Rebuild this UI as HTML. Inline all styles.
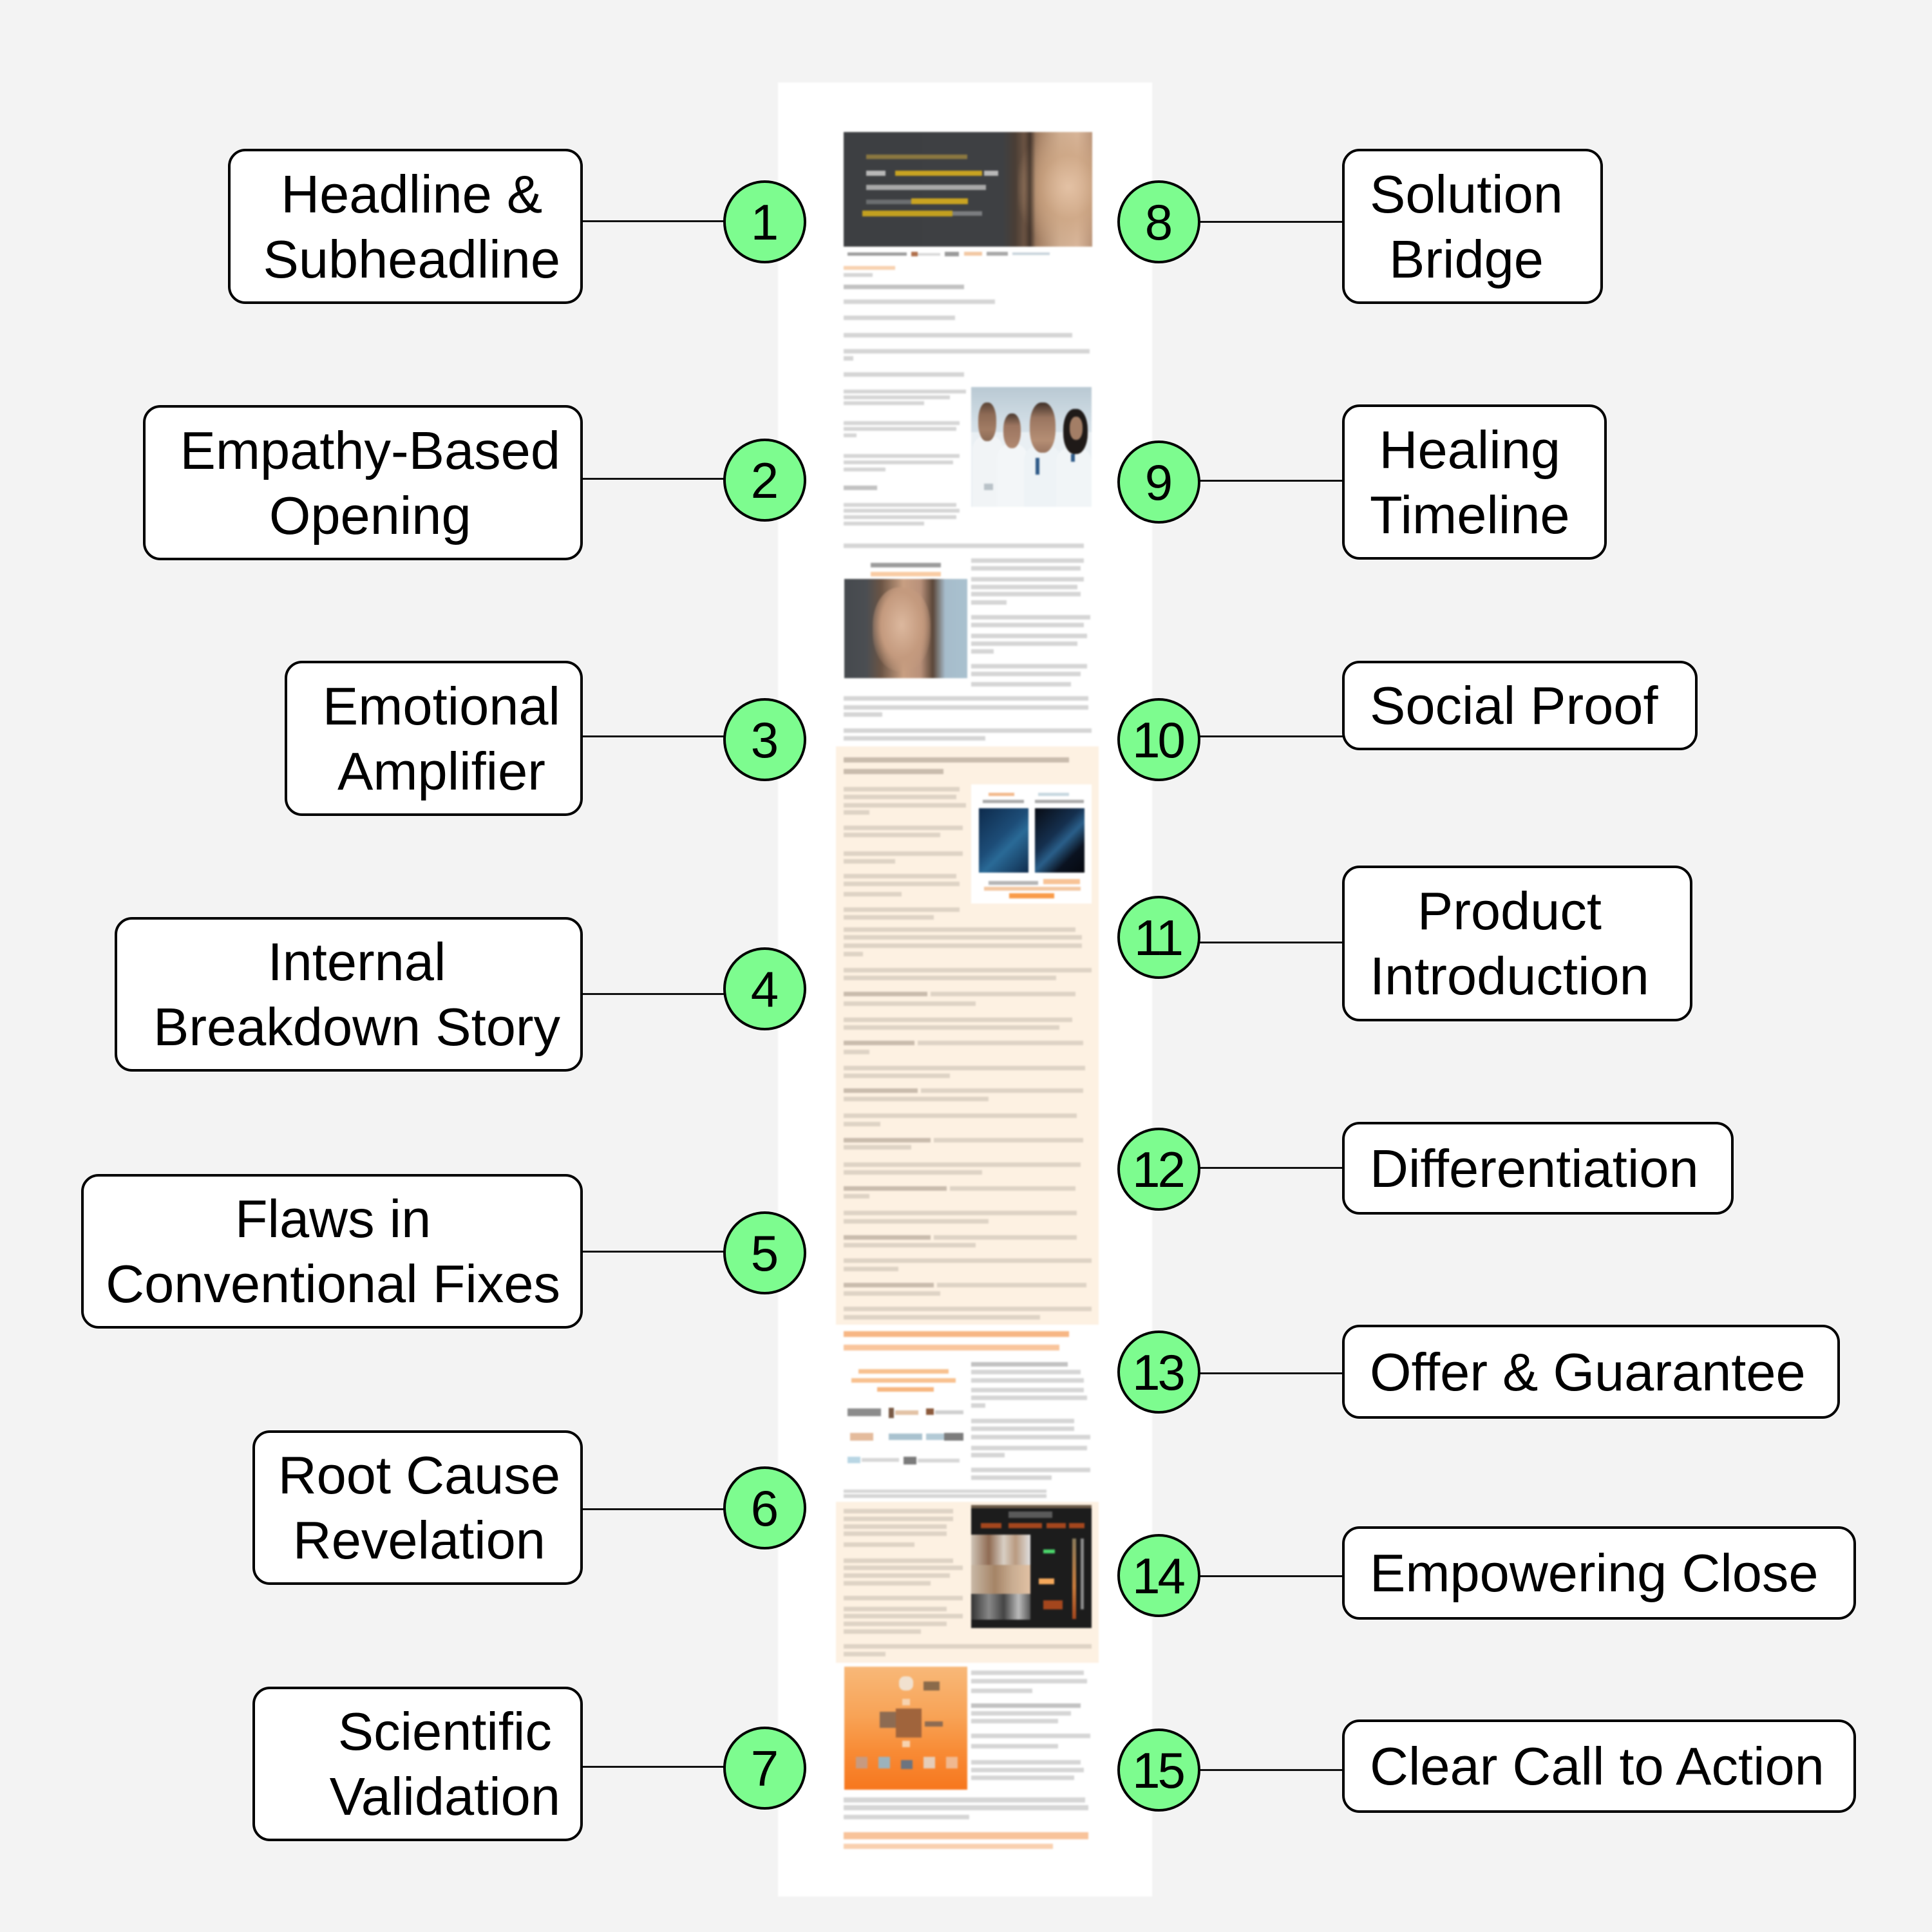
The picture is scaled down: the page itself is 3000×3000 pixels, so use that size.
<!DOCTYPE html>
<html>
<head>
<meta charset="utf-8">
<style>
html,body{margin:0;padding:0;}
body{width:3000px;height:3000px;background:#f3f3f3;position:relative;overflow:hidden;font-family:"Liberation Sans",Arial,sans-serif;}
.a{position:absolute;}
.g{position:absolute;height:7px;background:#d6d6d6;}
.d{background:#c2c2c2;}
.p{position:absolute;height:7px;background:#ded3c5;}
.pd{background:#c9bcad;}
.box{position:absolute;box-sizing:border-box;border:4px solid #000;border-radius:27px;background:#fff;display:flex;align-items:center;}
.box.l{justify-content:flex-end;padding-right:31px;}
.box.r{justify-content:flex-start;padding-left:39px;}
.box .t{font-size:83px;line-height:101px;text-align:center;color:#000;white-space:nowrap;}
.ln{position:absolute;height:3px;background:#111;}
.c{position:absolute;box-sizing:border-box;width:129px;height:129px;border:4px solid #000;border-radius:50%;background:#7dfc8f;display:flex;align-items:center;justify-content:center;font-size:78px;line-height:1;color:#000;}
.c.w{letter-spacing:-4px;padding-right:4px;}
</style>
</head>
<body>

<div class="a" style="left:0;top:0;width:3000px;height:3000px;filter:blur(1.3px);">
  <!-- page panel -->
  <div class="a" style="left:1208px;top:128px;width:581px;height:2817px;background:#fff;"></div>

  <!-- hero -->
  <div class="a" style="left:1310px;top:205px;width:386px;height:178px;background:linear-gradient(90deg,#3d3f42 0%,#3e4043 64%,#4a3e35 69%,#6e5544 73%,#a88468 79%,#cfae92 87%,#d9b79c 94%,#b99479 100%);"></div>
  <div class="a" style="left:1580px;top:205px;width:116px;height:178px;background:radial-gradient(ellipse at 68% 48%,rgba(228,194,165,0.95) 0%,rgba(205,165,130,0.7) 38%,rgba(80,60,45,0) 75%);"></div>
  <div class="a" style="left:1590px;top:205px;width:18px;height:178px;background:linear-gradient(90deg,rgba(40,32,28,0),rgba(40,32,28,0.7),rgba(40,32,28,0));"></div>
  <div class="a" style="left:1345px;top:240px;width:157px;height:7px;background:#8a7740;"></div>
  <div class="a" style="left:1345px;top:265px;width:30px;height:8px;background:#b8b8b8;"></div>
  <div class="a" style="left:1390px;top:265px;width:135px;height:8px;background:#c9a321;"></div>
  <div class="a" style="left:1528px;top:265px;width:22px;height:8px;background:#b8b8b8;"></div>
  <div class="a" style="left:1345px;top:287px;width:186px;height:8px;background:#a8a8a8;"></div>
  <div class="a" style="left:1345px;top:310px;width:70px;height:7px;background:#6b6e70;"></div>
  <div class="a" style="left:1415px;top:308px;width:88px;height:9px;background:#c9a321;"></div>
  <div class="a" style="left:1339px;top:327px;width:140px;height:9px;background:#c2a01f;"></div>
  <div class="a" style="left:1479px;top:328px;width:46px;height:7px;background:#7b7d80;"></div>

  <!-- logo strip -->
  <div class="a" style="left:1316px;top:392px;width:92px;height:5px;background:#9c9c9c;"></div>
  <div class="a" style="left:1415px;top:391px;width:10px;height:7px;background:#b0704c;"></div>
  <div class="a" style="left:1425px;top:393px;width:35px;height:4px;background:#d8d8d8;"></div>
  <div class="a" style="left:1467px;top:391px;width:22px;height:7px;background:#9a9a9a;"></div>
  <div class="a" style="left:1497px;top:391px;width:28px;height:6px;background:#f2c8a3;"></div>
  <div class="a" style="left:1532px;top:391px;width:33px;height:6px;background:#a7a7a7;"></div>
  <div class="a" style="left:1572px;top:392px;width:58px;height:4px;background:#c9d4dc;"></div>

  <!-- intro lines -->
  <div class="a" style="left:1310px;top:413px;width:80px;height:6px;background:#f8d2b0;"></div>
  <div class="g" style="left:1310px;top:424px;width:45px;height:6px;"></div>
  <div class="g d" style="left:1310px;top:442px;width:187px;"></div>
  <div class="g" style="left:1310px;top:465px;width:235px;"></div>
  <div class="g" style="left:1310px;top:490px;width:173px;"></div>
  <div class="g" style="left:1310px;top:517px;width:355px;"></div>
  <div class="g" style="left:1310px;top:542px;width:382px;"></div>
  <div class="g" style="left:1310px;top:553px;width:15px;"></div>
  <div class="g" style="left:1310px;top:578px;width:187px;"></div>
  <div class="g" style="left:1310px;top:605px;width:190px;height:6px;"></div>
  <div class="g" style="left:1310px;top:614px;width:165px;height:6px;"></div>
  <div class="g" style="left:1310px;top:623px;width:125px;height:6px;"></div>
  <div class="g" style="left:1310px;top:654px;width:180px;height:6px;"></div>
  <div class="g" style="left:1310px;top:663px;width:175px;height:6px;"></div>
  <div class="g" style="left:1310px;top:673px;width:20px;height:6px;"></div>
  <div class="g" style="left:1310px;top:705px;width:180px;height:6px;"></div>
  <div class="g" style="left:1310px;top:715px;width:170px;height:6px;"></div>
  <div class="g" style="left:1310px;top:726px;width:65px;height:6px;"></div>
  <div class="g d" style="left:1310px;top:754px;width:52px;"></div>
  <div class="g" style="left:1310px;top:781px;width:175px;height:6px;"></div>
  <div class="g" style="left:1310px;top:790px;width:180px;height:6px;"></div>
  <div class="g" style="left:1310px;top:800px;width:175px;height:6px;"></div>
  <div class="g" style="left:1310px;top:810px;width:125px;height:6px;"></div>
  <div class="g" style="left:1310px;top:844px;width:373px;"></div>

  <!-- doctors photo -->
  <div class="a" style="left:1508px;top:601px;width:187px;height:186px;background:linear-gradient(180deg,#b9c9d3 0%,#d2dee6 30%,#e3eaef 60%,#dfe7ec 100%);overflow:hidden;">
    <div class="a" style="left:0px;top:70px;width:187px;height:116px;background:#e9eff3;"></div>
    <div class="a" style="left:2px;top:75px;width:48px;height:111px;background:#f1f4f6;border-radius:22px 22px 0 0;"></div>
    <div class="a" style="left:40px;top:88px;width:48px;height:98px;background:#f3f6f8;border-radius:22px 22px 0 0;"></div>
    <div class="a" style="left:82px;top:90px;width:58px;height:96px;background:#eef3f6;border-radius:24px 24px 0 0;"></div>
    <div class="a" style="left:132px;top:94px;width:55px;height:92px;background:#f1f5f7;border-radius:22px 22px 0 0;"></div>
    <div class="a" style="left:11px;top:24px;width:28px;height:60px;border-radius:45%;background:linear-gradient(180deg,#5a4536 0%,#8d6a55 30%,#a27c64 70%,#8a6a55 100%);"></div>
    <div class="a" style="left:50px;top:41px;width:27px;height:54px;border-radius:45%;background:linear-gradient(180deg,#4a3a30 0%,#9c7560 35%,#b08870 100%);"></div>
    <div class="a" style="left:91px;top:24px;width:40px;height:78px;border-radius:45%;background:linear-gradient(180deg,#3e3028 0%,#9a7560 30%,#b58e74 75%,#9a7560 100%);"></div>
    <div class="a" style="left:143px;top:34px;width:38px;height:70px;border-radius:45%;background:#1f1a18;"></div>
    <div class="a" style="left:153px;top:46px;width:20px;height:36px;border-radius:45%;background:#a37e66;"></div>
    <div class="a" style="left:100px;top:110px;width:6px;height:26px;background:#2f5b88;"></div>
    <div class="a" style="left:155px;top:104px;width:6px;height:12px;background:#2f5b88;"></div>
    <div class="a" style="left:20px;top:150px;width:14px;height:10px;background:#b9c2c8;"></div>
  </div>

  <!-- woman section -->
  <div class="a" style="left:1352px;top:874px;width:109px;height:7px;background:#9c9c9c;"></div>
  <div class="a" style="left:1352px;top:888px;width:109px;height:7px;background:#f9cca4;"></div>
  <div class="a" style="left:1311px;top:899px;width:191px;height:154px;background:linear-gradient(90deg,#45494e 0%,#4b4e52 18%,#6b5444 30%,#c89f82 48%,#b9917a 62%,#5a4638 72%,#a6bccb 82%,#a9c1cf 100%);"></div>
  <div class="a" style="left:1355px;top:912px;width:90px;height:130px;border-radius:45%;background:radial-gradient(ellipse at 50% 45%,#dcb89e 0%,#c49a7e 50%,rgba(120,90,70,0) 80%);"></div>
  <div class="g" style="left:1508px;top:867px;width:175px;"></div>
  <div class="g" style="left:1508px;top:879px;width:170px;"></div>
  <div class="g" style="left:1508px;top:896px;width:175px;"></div>
  <div class="g" style="left:1508px;top:908px;width:165px;"></div>
  <div class="g" style="left:1508px;top:919px;width:170px;"></div>
  <div class="g" style="left:1508px;top:932px;width:55px;"></div>
  <div class="g" style="left:1508px;top:955px;width:185px;"></div>
  <div class="g" style="left:1508px;top:967px;width:175px;"></div>
  <div class="g" style="left:1508px;top:984px;width:180px;"></div>
  <div class="g" style="left:1508px;top:996px;width:165px;"></div>
  <div class="g" style="left:1508px;top:1008px;width:35px;"></div>
  <div class="g" style="left:1508px;top:1031px;width:180px;"></div>
  <div class="g" style="left:1508px;top:1043px;width:170px;"></div>
  <div class="g" style="left:1508px;top:1059px;width:155px;"></div>
  <div class="g" style="left:1310px;top:1081px;width:380px;"></div>
  <div class="g" style="left:1310px;top:1095px;width:380px;"></div>
  <div class="g" style="left:1310px;top:1106px;width:60px;"></div>
  <div class="g" style="left:1310px;top:1131px;width:385px;"></div>
  <div class="g" style="left:1310px;top:1143px;width:220px;"></div>

  <!-- peach section 1 -->
  <div class="a" style="left:1298px;top:1159px;width:408px;height:898px;background:#fdf1e2;"></div>
  <div class="p pd" style="left:1310px;top:1176px;width:350px;height:8px;"></div>
  <div class="p pd" style="left:1310px;top:1194px;width:155px;height:8px;"></div>
  <div class="p" style="left:1310px;top:1222px;width:180px;"></div>
  <div class="p" style="left:1310px;top:1234px;width:175px;"></div>
  <div class="p" style="left:1310px;top:1247px;width:190px;"></div>
  <div class="p" style="left:1310px;top:1258px;width:40px;"></div>
  <div class="p" style="left:1310px;top:1282px;width:185px;"></div>
  <div class="p" style="left:1310px;top:1293px;width:150px;"></div>
  <div class="p" style="left:1310px;top:1322px;width:185px;"></div>
  <div class="p" style="left:1310px;top:1334px;width:80px;"></div>
  <div class="p" style="left:1310px;top:1357px;width:175px;"></div>
  <div class="p" style="left:1310px;top:1369px;width:180px;"></div>
  <div class="p" style="left:1310px;top:1385px;width:90px;"></div>
  <div class="p" style="left:1310px;top:1409px;width:180px;"></div>
  <div class="p" style="left:1310px;top:1421px;width:140px;"></div>
  <!-- card -->
  <div class="a" style="left:1508px;top:1218px;width:187px;height:185px;background:#fff;"></div>
  <div class="a" style="left:1535px;top:1231px;width:40px;height:5px;background:#f3b98c;"></div>
  <div class="a" style="left:1612px;top:1231px;width:48px;height:5px;background:#c8d8e0;"></div>
  <div class="a" style="left:1526px;top:1242px;width:64px;height:5px;background:#a9a9a9;"></div>
  <div class="a" style="left:1607px;top:1242px;width:76px;height:5px;background:#a9a9a9;"></div>
  <div class="a" style="left:1520px;top:1255px;width:77px;height:100px;background:linear-gradient(135deg,#0e2b4c 0%,#1d4d78 45%,#2a6a97 60%,#0f2c4d 100%);"></div>
  <div class="a" style="left:1607px;top:1255px;width:77px;height:100px;background:linear-gradient(135deg,#080c14 0%,#15304f 40%,#2a5f8a 55%,#0a1220 75%,#05080e 100%);"></div>
  <div class="a" style="left:1535px;top:1368px;width:77px;height:6px;background:#b5b5b5;"></div>
  <div class="a" style="left:1620px;top:1365px;width:57px;height:8px;background:#f8c396;"></div>
  <div class="a" style="left:1528px;top:1377px;width:150px;height:6px;background:#f3c7a2;"></div>
  <div class="a" style="left:1567px;top:1387px;width:70px;height:8px;background:#f99b48;"></div>
  <!-- full width peach lines -->
  <div class="p" style="left:1310px;top:1440px;width:360px;"></div>
  <div class="p" style="left:1310px;top:1452px;width:370px;"></div>
  <div class="p" style="left:1310px;top:1465px;width:370px;"></div>
  <div class="p" style="left:1310px;top:1478px;width:30px;"></div>
  <div class="p" style="left:1310px;top:1503px;width:385px;"></div>
  <div class="p" style="left:1310px;top:1515px;width:330px;"></div>

  <div class="p pd" style="left:1310px;top:1540px;width:130px;"></div>
  <div class="p" style="left:1445px;top:1540px;width:225px;"></div>
  <div class="p" style="left:1310px;top:1555px;width:205px;"></div>
  <div class="p" style="left:1310px;top:1580px;width:355px;"></div>
  <div class="p" style="left:1310px;top:1592px;width:335px;"></div>
  <div class="p pd" style="left:1310px;top:1616px;width:110px;"></div>
  <div class="p" style="left:1425px;top:1616px;width:257px;"></div>
  <div class="p" style="left:1310px;top:1630px;width:40px;"></div>
  <div class="p" style="left:1310px;top:1655px;width:375px;"></div>
  <div class="p" style="left:1310px;top:1667px;width:165px;"></div>
  <div class="p pd" style="left:1310px;top:1690px;width:115px;"></div>
  <div class="p" style="left:1430px;top:1690px;width:252px;"></div>
  <div class="p" style="left:1310px;top:1703px;width:225px;"></div>
  <div class="p" style="left:1310px;top:1729px;width:362px;"></div>
  <div class="p" style="left:1310px;top:1742px;width:57px;"></div>
  <div class="p pd" style="left:1310px;top:1767px;width:135px;"></div>
  <div class="p" style="left:1450px;top:1767px;width:232px;"></div>
  <div class="p" style="left:1310px;top:1778px;width:105px;"></div>
  <div class="p" style="left:1310px;top:1805px;width:368px;"></div>
  <div class="p" style="left:1310px;top:1817px;width:215px;"></div>
  <div class="p pd" style="left:1310px;top:1842px;width:160px;"></div>
  <div class="p" style="left:1475px;top:1842px;width:195px;"></div>
  <div class="p" style="left:1310px;top:1854px;width:40px;"></div>
  <div class="p" style="left:1310px;top:1880px;width:362px;"></div>
  <div class="p" style="left:1310px;top:1893px;width:225px;"></div>
  <div class="p pd" style="left:1310px;top:1918px;width:135px;"></div>
  <div class="p" style="left:1450px;top:1918px;width:222px;"></div>
  <div class="p" style="left:1310px;top:1930px;width:205px;"></div>
  <div class="p" style="left:1310px;top:1954px;width:385px;"></div>
  <div class="p" style="left:1310px;top:1967px;width:85px;"></div>
  <div class="p pd" style="left:1310px;top:1992px;width:140px;"></div>
  <div class="p" style="left:1455px;top:1992px;width:232px;"></div>
  <div class="p" style="left:1310px;top:2005px;width:150px;"></div>
  <div class="p" style="left:1310px;top:2029px;width:385px;"></div>
  <div class="p" style="left:1310px;top:2042px;width:305px;"></div>

  <!-- after peach 1 -->
  <div class="a" style="left:1310px;top:2067px;width:350px;height:9px;background:#f7b684;"></div>
  <div class="a" style="left:1310px;top:2088px;width:335px;height:9px;background:#f9c59c;"></div>
  <div class="a" style="left:1333px;top:2126px;width:140px;height:7px;background:#f8c18f;"></div>
  <div class="a" style="left:1322px;top:2140px;width:162px;height:7px;background:#f8c18f;"></div>
  <div class="a" style="left:1362px;top:2154px;width:88px;height:7px;background:#f7b680;"></div>
  <div class="g d" style="left:1508px;top:2115px;width:150px;"></div>
  <div class="g" style="left:1508px;top:2127px;width:170px;"></div>
  <div class="g" style="left:1508px;top:2140px;width:175px;"></div>
  <div class="g" style="left:1508px;top:2155px;width:175px;"></div>
  <div class="g" style="left:1508px;top:2167px;width:180px;"></div>
  <div class="g" style="left:1508px;top:2179px;width:22px;"></div>
  <div class="g" style="left:1508px;top:2203px;width:160px;"></div>
  <div class="g" style="left:1508px;top:2215px;width:160px;"></div>
  <div class="g" style="left:1508px;top:2228px;width:185px;"></div>
  <div class="g" style="left:1508px;top:2245px;width:180px;"></div>
  <div class="g" style="left:1508px;top:2256px;width:52px;"></div>
  <div class="g" style="left:1508px;top:2279px;width:185px;"></div>
  <div class="g" style="left:1508px;top:2291px;width:125px;"></div>
  <!-- logos -->
  <div class="a" style="left:1316px;top:2187px;width:52px;height:12px;background:#8c8c8c;"></div>
  <div class="a" style="left:1380px;top:2186px;width:8px;height:16px;background:#7a5a45;"></div>
  <div class="a" style="left:1390px;top:2190px;width:36px;height:7px;background:#e3c2a5;"></div>
  <div class="a" style="left:1438px;top:2187px;width:12px;height:10px;background:#8b5a3c;"></div>
  <div class="a" style="left:1452px;top:2190px;width:44px;height:6px;background:#cfcfcf;"></div>
  <div class="a" style="left:1320px;top:2225px;width:36px;height:12px;background:#e4bb9c;"></div>
  <div class="a" style="left:1380px;top:2226px;width:52px;height:10px;background:#a9c2cf;"></div>
  <div class="a" style="left:1438px;top:2226px;width:28px;height:10px;background:#b3cad6;"></div>
  <div class="a" style="left:1466px;top:2225px;width:30px;height:12px;background:#7c7c7c;"></div>
  <div class="a" style="left:1316px;top:2262px;width:20px;height:10px;background:#b8d6e4;"></div>
  <div class="a" style="left:1338px;top:2264px;width:58px;height:6px;background:#d8d8d8;"></div>
  <div class="a" style="left:1403px;top:2262px;width:20px;height:12px;background:#7b7b7b;"></div>
  <div class="a" style="left:1425px;top:2265px;width:65px;height:6px;background:#d8d8d8;"></div>
  <div class="g" style="left:1310px;top:2313px;width:315px;height:5px;"></div>
  <div class="g" style="left:1310px;top:2320px;width:315px;height:6px;"></div>

  <!-- peach section 2 -->
  <div class="a" style="left:1298px;top:2332px;width:408px;height:250px;background:#fdf1e2;"></div>
  <div class="p" style="left:1310px;top:2343px;width:170px;"></div>
  <div class="p" style="left:1310px;top:2355px;width:170px;"></div>
  <div class="p" style="left:1310px;top:2367px;width:160px;"></div>
  <div class="p" style="left:1310px;top:2378px;width:160px;"></div>
  <div class="p" style="left:1310px;top:2395px;width:110px;"></div>
  <div class="p" style="left:1310px;top:2420px;width:170px;"></div>
  <div class="p" style="left:1310px;top:2431px;width:185px;"></div>
  <div class="p" style="left:1310px;top:2443px;width:165px;"></div>
  <div class="p" style="left:1310px;top:2455px;width:135px;"></div>
  <div class="p" style="left:1310px;top:2478px;width:185px;"></div>
  <div class="p" style="left:1310px;top:2495px;width:160px;"></div>
  <div class="p" style="left:1310px;top:2506px;width:185px;"></div>
  <div class="p" style="left:1310px;top:2518px;width:160px;"></div>
  <div class="p" style="left:1310px;top:2530px;width:120px;"></div>
  <div class="p" style="left:1310px;top:2553px;width:385px;"></div>
  <div class="p" style="left:1310px;top:2565px;width:65px;"></div>
  <!-- dark image -->
  <div class="a" style="left:1508px;top:2337px;width:187px;height:191px;background:#1c1c1c;overflow:hidden;">
    <div class="a" style="left:0;top:0;width:187px;height:5px;background:#6b5a48;"></div>
    <div class="a" style="left:58px;top:10px;width:68px;height:10px;background:#5a5a5a;"></div>
    <div class="a" style="left:15px;top:28px;width:32px;height:8px;background:#a4461d;"></div>
    <div class="a" style="left:58px;top:28px;width:52px;height:8px;background:#a4461d;"></div>
    <div class="a" style="left:117px;top:28px;width:30px;height:8px;background:#a4461d;"></div>
    <div class="a" style="left:152px;top:28px;width:24px;height:8px;background:#a4461d;"></div>
    <div class="a" style="left:0;top:46px;width:92px;height:47px;background:linear-gradient(90deg,#cfc4b6,#8f6a52 30%,#d8cfc4 55%,#b99a80 75%,#e0e0e0);"></div>
    <div class="a" style="left:0;top:93px;width:92px;height:45px;background:linear-gradient(90deg,#c8b8a6,#a58466 40%,#c9ad92 70%,#e2c2a4);"></div>
    <div class="a" style="left:0;top:138px;width:92px;height:40px;background:linear-gradient(90deg,#333,#888 30%,#444 55%,#bbb 80%,#555);"></div>
    <div class="a" style="left:112px;top:69px;width:18px;height:6px;background:#4bd66b;"></div>
    <div class="a" style="left:105px;top:114px;width:24px;height:9px;background:#f5a85b;"></div>
    <div class="a" style="left:112px;top:148px;width:30px;height:14px;background:#a4461d;"></div>
    <div class="a" style="left:157px;top:52px;width:6px;height:125px;background:linear-gradient(180deg,#8a7a5a,#c77a3a 60%,#a4461d);"></div>
    <div class="a" style="left:170px;top:52px;width:5px;height:110px;background:#8a8a8a;"></div>
  </div>

  <!-- orange image -->
  <div class="a" style="left:1311px;top:2588px;width:191px;height:191px;background:linear-gradient(180deg,#f8b878 0%,#f8a356 40%,#f88a34 70%,#f7771e 100%);overflow:hidden;">
    <div class="a" style="left:85px;top:15px;width:22px;height:22px;background:#f1e1cf;border-radius:40%;"></div>
    <div class="a" style="left:123px;top:23px;width:25px;height:14px;background:#8a6a4a;"></div>
    <div class="a" style="left:90px;top:50px;width:12px;height:10px;background:#f7d3b0;"></div>
    <div class="a" style="left:55px;top:70px;width:30px;height:25px;background:#8d6b52;"></div>
    <div class="a" style="left:80px;top:65px;width:40px;height:45px;background:#a0643c;"></div>
    <div class="a" style="left:125px;top:85px;width:28px;height:8px;background:#8d6b52;"></div>
    <div class="a" style="left:90px;top:115px;width:12px;height:10px;background:#f7d3b0;"></div>
    <div class="a" style="left:18px;top:140px;width:18px;height:18px;background:#c79a80;"></div>
    <div class="a" style="left:53px;top:140px;width:18px;height:18px;background:#9cb2bc;"></div>
    <div class="a" style="left:88px;top:145px;width:18px;height:14px;background:#6c7480;"></div>
    <div class="a" style="left:123px;top:140px;width:18px;height:18px;background:#e6cdb8;"></div>
    <div class="a" style="left:158px;top:140px;width:18px;height:18px;background:#f0b890;"></div>
  </div>
  <div class="g" style="left:1508px;top:2594px;width:175px;"></div>
  <div class="g" style="left:1508px;top:2607px;width:180px;"></div>
  <div class="g" style="left:1508px;top:2622px;width:95px;"></div>
  <div class="g d" style="left:1508px;top:2645px;width:170px;"></div>
  <div class="g" style="left:1508px;top:2657px;width:155px;"></div>
  <div class="g" style="left:1508px;top:2669px;width:135px;"></div>
  <div class="g" style="left:1508px;top:2692px;width:185px;"></div>
  <div class="g" style="left:1508px;top:2708px;width:135px;"></div>
  <div class="g" style="left:1508px;top:2733px;width:170px;"></div>
  <div class="g" style="left:1508px;top:2745px;width:175px;"></div>
  <div class="g" style="left:1508px;top:2757px;width:160px;"></div>
  <div class="g" style="left:1310px;top:2791px;width:375px;height:8px;"></div>
  <div class="g" style="left:1310px;top:2803px;width:380px;height:8px;"></div>
  <div class="g" style="left:1310px;top:2818px;width:195px;"></div>
  <div class="a" style="left:1310px;top:2845px;width:380px;height:11px;background:#f8c39a;"></div>
  <div class="a" style="left:1310px;top:2863px;width:325px;height:8px;background:#f9d0af;"></div>
</div>

<!-- connectors -->
<div class="ln" style="left:905px;top:342px;width:220px;"></div>
<div class="ln" style="left:905px;top:742px;width:220px;"></div>
<div class="ln" style="left:905px;top:1142px;width:220px;"></div>
<div class="ln" style="left:905px;top:1542px;width:220px;"></div>
<div class="ln" style="left:905px;top:1942px;width:220px;"></div>
<div class="ln" style="left:905px;top:2342px;width:220px;"></div>
<div class="ln" style="left:905px;top:2742px;width:220px;"></div>

<div class="ln" style="left:1860px;top:343px;width:226px;"></div>
<div class="ln" style="left:1860px;top:745px;width:226px;"></div>
<div class="ln" style="left:1860px;top:1142px;width:226px;"></div>
<div class="ln" style="left:1860px;top:1462px;width:226px;"></div>
<div class="ln" style="left:1860px;top:1812px;width:226px;"></div>
<div class="ln" style="left:1860px;top:2131px;width:226px;"></div>
<div class="ln" style="left:1860px;top:2446px;width:226px;"></div>
<div class="ln" style="left:1860px;top:2747px;width:226px;"></div>

<!-- circles -->
<div class="c" style="left:1123px;top:280px;">1</div>
<div class="c" style="left:1123px;top:681px;">2</div>
<div class="c" style="left:1123px;top:1084px;">3</div>
<div class="c" style="left:1123px;top:1471px;">4</div>
<div class="c" style="left:1123px;top:1881px;">5</div>
<div class="c" style="left:1123px;top:2277px;">6</div>
<div class="c" style="left:1123px;top:2681px;">7</div>

<div class="c" style="left:1735px;top:280px;">8</div>
<div class="c" style="left:1735px;top:684px;">9</div>
<div class="c w" style="left:1735px;top:1084px;">10</div>
<div class="c w" style="left:1735px;top:1391px;">11</div>
<div class="c w" style="left:1735px;top:1751px;">12</div>
<div class="c w" style="left:1735px;top:2066px;">13</div>
<div class="c w" style="left:1735px;top:2382px;">14</div>
<div class="c w" style="left:1735px;top:2684px;">15</div>

<!-- left boxes -->
<div class="box l" style="left:354px;top:231px;width:551px;height:241px;"><div class="t">Headline &amp;<br>Subheadline</div></div>
<div class="box l" style="left:222px;top:629px;width:683px;height:241px;"><div class="t">Empathy-Based<br>Opening</div></div>
<div class="box l" style="left:442px;top:1026px;width:463px;height:241px;"><div class="t">Emotional<br>Amplifier</div></div>
<div class="box l" style="left:178px;top:1424px;width:727px;height:240px;"><div class="t">Internal<br>Breakdown Story</div></div>
<div class="box l" style="left:126px;top:1823px;width:779px;height:240px;"><div class="t">Flaws in<br>Conventional Fixes</div></div>
<div class="box l" style="left:392px;top:2221px;width:513px;height:240px;"><div class="t">Root Cause<br>Revelation</div></div>
<div class="box l" style="left:392px;top:2619px;width:513px;height:240px;"><div class="t">Scientific<br>Validation</div></div>

<!-- right boxes -->
<div class="box r" style="left:2084px;top:231px;width:405px;height:241px;"><div class="t">Solution<br>Bridge</div></div>
<div class="box r" style="left:2084px;top:628px;width:411px;height:241px;"><div class="t">Healing<br>Timeline</div></div>
<div class="box r" style="left:2084px;top:1026px;width:552px;height:139px;"><div class="t">Social Proof</div></div>
<div class="box r" style="left:2084px;top:1344px;width:544px;height:242px;"><div class="t">Product<br>Introduction</div></div>
<div class="box r" style="left:2084px;top:1742px;width:608px;height:144px;"><div class="t">Differentiation</div></div>
<div class="box r" style="left:2084px;top:2057px;width:773px;height:146px;"><div class="t">Offer &amp; Guarantee</div></div>
<div class="box r" style="left:2084px;top:2370px;width:798px;height:145px;"><div class="t">Empowering Close</div></div>
<div class="box r" style="left:2084px;top:2670px;width:798px;height:145px;"><div class="t">Clear Call to Action</div></div>

</body>
</html>
